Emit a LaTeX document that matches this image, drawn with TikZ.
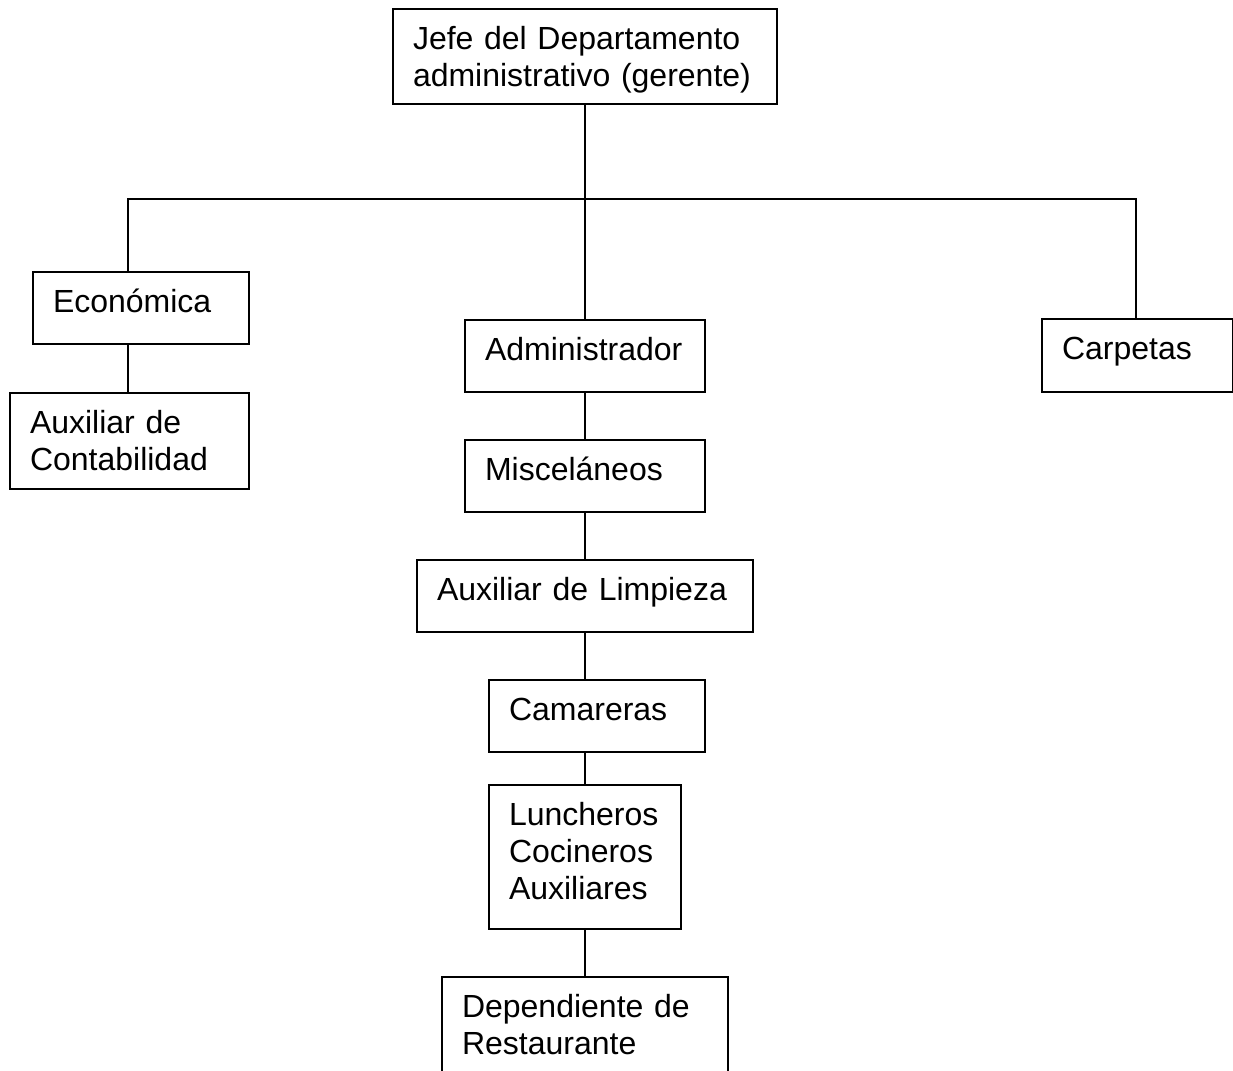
\documentclass[tikz,border=0pt]{standalone}
\usepackage{fontspec}
\setmainfont{Liberation Sans}
\usetikzlibrary{positioning}
\begin{document}
\begin{tikzpicture}[x=1pt,y=-1pt,line width=2pt,
  caja/.style 2 args={draw,anchor=north west,align=left,inner xsep=20pt,inner ysep=0pt,
    text width=#1pt-40pt,text height=40.4pt,text depth=#2pt-40.4pt,
    font=\fontsize{32}{36.8}\selectfont}]
\useasboundingbox (0,0) rectangle (1233,1070);
\clip (0,0) rectangle (1233,1070);
\node[caja={384}{95}] (jefe) at (392,8) {Jefe del Departamento\\administrativo (gerente)};
\node[caja={216}{72}] (economica) at (32,271) {Económica};
\node[caja={239}{96}] (auxcont) at (9,392) {Auxiliar de\\Contabilidad};
\node[caja={240}{72}] (admin) at (464,319) {Administrador};
\node[caja={191}{73}] (carpetas) at (1041,318) {Carpetas};
\node[caja={240}{72}] (misc) at (464,439) {Misceláneos};
\node[caja={336}{72}] (limpieza) at (416,559) {Auxiliar de Limpieza};
\node[caja={216}{72}] (camareras) at (488,679) {Camareras};
\node[caja={192}{144}] (lunch) at (488,784) {Luncheros\\Cocineros\\Auxiliares};
\node[caja={286}{98}] (depend) at (441,976) {Dependiente de\\Restaurante};
% lineas
\coordinate (busL) at (128,199);
\coordinate (busR) at (1136,199);
\coordinate (busC) at (jefe.south |- busL);
\draw (jefe.south) -- (busC) -- (admin.north);
\draw (economica.north -| busL) -- (busL) -- (busR) -- (carpetas.north -| busR);
\draw (economica.south -| busL) -- (auxcont.north -| busL);
\draw (admin) -- (misc);
\draw (misc) -- (limpieza);
\draw (limpieza.south) -- (limpieza.south |- camareras.north);
\draw (camareras.south -| lunch.north) -- (lunch.north);
\draw (lunch) -- (depend);
\end{tikzpicture}
\end{document}
